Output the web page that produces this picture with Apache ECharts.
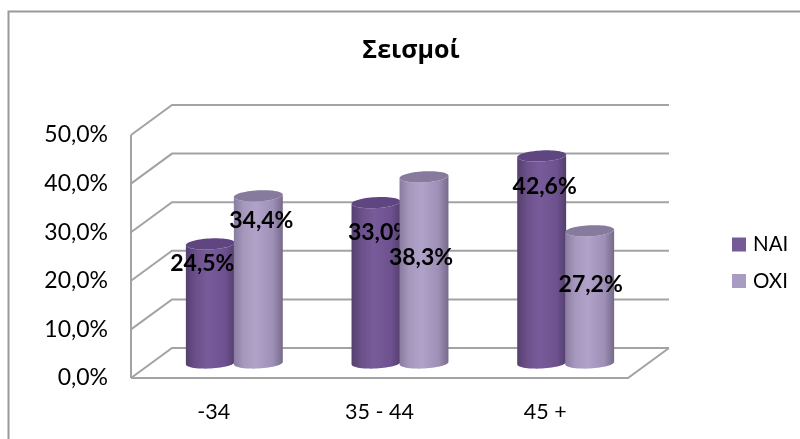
<!DOCTYPE html>
<html>
<head>
<meta charset="utf-8">
<script src="https://cdn.jsdelivr.net/npm/echarts@6/dist/echarts.min.js"></script>
<style>html,body{margin:0;padding:0;background:#fff}#c{width:800px;height:439px}</style>
</head>
<body>
<div id="c"></div>
<script>
const titleText = 'Σεισμοί';
const categories = ['-34', '35 - 44', '45 +'];
const seriesNames = ['NAI', 'OXI'];
const naiValues = [24.5, 33.0, 42.6];
const oxiValues = [34.4, 38.3, 27.2];
const yTicks = [0, 10, 20, 30, 40, 50];

// layout / style constants (not data)
const FONT = 'Lato, "Open Sans", sans-serif';
const DEPTH_X = 41, DEPTH_Y = 30;
const BAR_A = 24.5, BAR_B = 5.5, BAR_TILT = -3 * Math.PI / 180;
const labelNudge = {
  NAI: [[-8, 19.5], [4, 30], [3, 31]],
  OXI: [[3, 25], [-3, 81], [1, 54]]
};
const styles = {
  NAI: { sign: -1, top: '#5f4680', stops: ['#54406f', '#6b5089', '#785b9a', '#6e5290', '#543f6e'] },
  OXI: { sign: 1, top: '#877b9d', stops: ['#8a7b9f', '#a697bd', '#b1a2c9', '#9e8fb6', '#766a8a'] }
};
const LINE = '#a3a3a3';

function ellipsePoint(cx, cy, t) {
  const ex = BAR_A * Math.cos(t), ey = BAR_B * Math.sin(t);
  return [cx + ex * Math.cos(BAR_TILT) - ey * Math.sin(BAR_TILT),
          cy + ex * Math.sin(BAR_TILT) + ey * Math.cos(BAR_TILT)];
}
function fmt(v) { return v.toFixed(1).replace('.', ',') + '%'; }

function renderBar(name) {
  const st = styles[name];
  return function (params, api) {
    const cat = api.value(0), val = api.value(1);
    const top = api.coord([cat, val]);
    const base = api.coord([cat, 0]);
    const cx = top[0] + DEPTH_X / 2 + st.sign * 24;
    const yTop = top[1] - DEPTH_Y / 2, yBase = base[1] - DEPTH_Y / 2;
    const body = [], cap = [];
    for (let i = 0; i <= 30; i++) body.push(ellipsePoint(cx, yBase, Math.PI * i / 30));
    for (let i = 0; i <= 30; i++) body.push(ellipsePoint(cx, yTop, Math.PI - Math.PI * i / 30));
    for (let i = 0; i < 60; i++) cap.push(ellipsePoint(cx, yTop, 2 * Math.PI * i / 60));
    const s = st.stops;
    const fill = new echarts.graphic.LinearGradient(0, 0, 1, 0, [
      { offset: 0, color: s[0] }, { offset: 0.2, color: s[1] }, { offset: 0.45, color: s[2] },
      { offset: 0.8, color: s[3] }, { offset: 1, color: s[4] }
    ]);
    const nudge = labelNudge[name][params.dataIndex];
    return {
      type: 'group',
      children: [
        { type: 'polygon', shape: { points: body }, style: { fill: fill } },
        { type: 'polygon', shape: { points: cap }, style: { fill: st.top } },
        { type: 'text', z2: 50, style: {
            text: fmt(val), x: cx + nudge[0], y: yTop + nudge[1], align: 'center', verticalAlign: 'middle',
            font: 'bold 23px ' + FONT, fill: '#000' } }
      ]
    };
  };
}

function renderWall(params, api) {
  const v = api.value(0);
  const cs = params.coordSys;
  const y = api.coord([0, v])[1];
  const x0 = cs.x, x1 = cs.x + cs.width;
  const ls = { stroke: LINE, lineWidth: 2, fill: null };
  const children = [
    { type: 'polyline', shape: { points: [[x0, y], [x0 + DEPTH_X, y - DEPTH_Y], [x1 + DEPTH_X, y - DEPTH_Y]] }, style: ls }
  ];
  if (v === yTicks[0]) {
    children.push({ type: 'polyline', shape: { points: [[x0, y], [x1, y], [x1 + DEPTH_X, y - DEPTH_Y]] }, style: ls });
    const yEnd = api.coord([0, yTicks[yTicks.length - 1]])[1];
    children.push({ type: 'line', shape: { x1: x0, y1: y, x2: x0, y2: yEnd }, style: ls });
  }
  return { type: 'group', children: children };
}

const chart = echarts.init(document.getElementById('c'), null, { renderer: 'canvas' });
chart.setOption({
  animation: false,
  backgroundColor: '#fff',
  title: {
    text: titleText, left: 406, top: 33, textAlign: 'center',
    textStyle: { fontFamily: '"Open Sans", sans-serif', fontWeight: 'bold', fontSize: 25, color: '#000' }
  },
  legend: {
    orient: 'vertical', left: 727, top: 229, itemWidth: 14, itemHeight: 14, itemGap: 15.5,
    icon: 'rect', data: seriesNames,
    textStyle: { fontFamily: FONT, fontSize: 20.5, color: '#000', padding: [0, 0, 0, 2] }
  },
  grid: { left: 131, right: 172, top: 135, bottom: 61, containLabel: false },
  xAxis: {
    type: 'category', data: categories,
    axisLine: { show: false }, axisTick: { show: false },
    axisLabel: { margin: 23, fontFamily: FONT, fontSize: 21.5, color: '#000' }
  },
  yAxis: {
    type: 'value', min: 0, max: 50, interval: 10,
    axisLine: { show: false }, axisTick: { show: false }, splitLine: { show: false },
    axisLabel: { margin: 23, fontFamily: FONT, fontSize: 23, color: '#000', formatter: fmt }
  },
  graphic: [{
    type: 'polyline', silent: true,
    shape: { points: [[8.5, 439], [8.5, 11.5], [800, 11.5]] },
    style: { stroke: '#9a9a9a', lineWidth: 2, fill: null }
  }],
  series: [
    { type: 'custom', name: 'walls', data: yTicks.map(v => [v]), renderItem: renderWall, z: 1, silent: true, encode: { y: 0 } , clip: false},
    { type: 'custom', name: 'NAI', data: naiValues.map((v, i) => [i, v]), renderItem: renderBar('NAI'), z: 2, encode: { x: 0, y: 1 }, itemStyle: { color: '#745a96' } },
    { type: 'custom', name: 'OXI', data: oxiValues.map((v, i) => [i, v]), renderItem: renderBar('OXI'), z: 3, encode: { x: 0, y: 1 }, itemStyle: { color: '#aa9bc2' } }
  ]
});
</script>
</body>
</html>
